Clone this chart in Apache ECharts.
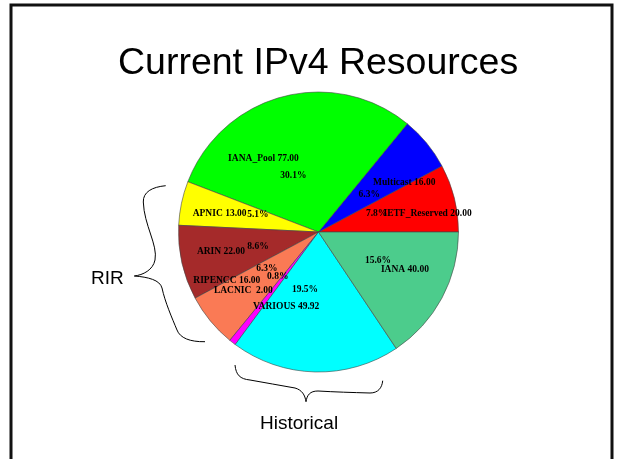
<!DOCTYPE html>
<html>
<head>
<meta charset="utf-8">
<script src="https://cdn.jsdelivr.net/npm/echarts@6/dist/echarts.min.js"></script>
<style>
html,body{margin:0;padding:0;background:#fff;}
#chart{width:623px;height:459px;}
</style>
</head>
<body>
<div id="chart"></div>
<script>
// ---- data ----
const categories = ['IETF_Reserved', 'Multicast', 'IANA_Pool', 'APNIC', 'ARIN', 'RIPENCC', 'LACNIC', 'VARIOUS', 'IANA'];
const values = [20.00, 16.00, 77.00, 13.00, 22.00, 16.00, 2.00, 49.92, 40.00];
const titleText = 'Current IPv4 Resources';
const groupLabels = ['RIR', 'Historical'];

// ---- styles ----
const sliceColors = ['#ff0000', '#0000ff', '#00ff00', '#ffff00', '#a52a2a', '#fa7a55', '#ff00ff', '#00ffff', '#4ccc8c'];
const nameNudge = {
  IETF_Reserved: [14, 5], Multicast: [10, 13], IANA_Pool: [-30, 21], APNIC: [-3, 2], ARIN: [-2, -2],
  RIPENCC: [-16, -14], LACNIC: [-15, -19], VARIOUS: [-30, -23], IANA: [0, -9]
};
const pctNudge = {
  IETF_Reserved: [-3, -3], Multicast: [2, 3], APNIC: [1, -4], ARIN: [1, 1], VARIOUS: [-12, -5], IANA_Pool: [-9, 4],
  IANA: [4, -1], RIPENCC: [-3, -3], LACNIC: [-2, -5]
};

// brace curve segments [x1,y1,cpx1,cpy1,cpx2,cpy2,x2,y2]
const leftBrace = [
  [165.7, 185.7, 152, 187, 143, 192, 143.3, 202],
  [143.3, 202, 144, 225, 158, 245, 155, 260],
  [155, 260, 153, 270, 143, 275, 134.3, 276],
  [134.3, 276, 148, 277, 160, 280, 162, 288],
  [162, 288, 165, 302, 172, 318, 177, 330],
  [177, 330, 180, 338, 190, 342, 205, 341.7]
];
const bottomBrace = [
  [235, 365, 236, 375, 240, 379, 250, 380],
  [250, 380, 265, 383, 280, 385, 295, 388],
  [295, 388, 302, 390, 305, 395, 306, 401.7],
  [306, 401.7, 307, 395, 310, 391, 318, 391],
  [318, 391, 335, 392, 352, 392.5, 370, 393],
  [370, 393, 378, 393, 382, 388, 382.7, 380.7]
];

const total = values.reduce((a, b) => a + b, 0);
const center = [318.5, 232];
const R = 140;
const labelFont = { fontFamily: 'Liberation Serif', fontSize: 9.5, fontWeight: 'bold', color: '#000' };

function mainData() {
  return categories.map((c, i) => ({ name: c, value: values[i], itemStyle: { color: sliceColors[i] } }));
}
function labelData(nudge) {
  return categories.map((c, i) => ({
    name: c, value: values[i],
    label: nudge[c] ? { offset: nudge[c] } : {}
  }));
}
function braceGraphics(segs) {
  return segs.map(s => ({
    type: 'bezierCurve',
    shape: { x1: s[0], y1: s[1], cpx1: s[2], cpy1: s[3], cpx2: s[4], cpy2: s[5], x2: s[6], y2: s[7] },
    style: { fill: null, stroke: '#000', lineWidth: 1 }, z: 100
  }));
}

const chart = echarts.init(document.getElementById('chart'), null, { renderer: 'canvas' });
chart.setOption({
  animation: false,
  backgroundColor: '#fff',
  title: [
    { text: titleText, left: 118, top: 45, padding: 0,
      textStyle: { fontFamily: 'Liberation Sans', fontSize: 37.5, fontWeight: 'normal', color: '#000' } },
    { text: groupLabels[0], left: 91, top: 269, padding: 0,
      textStyle: { fontFamily: 'Liberation Sans', fontSize: 19, fontWeight: 'normal', color: '#000' } },
    { text: groupLabels[1], left: 260, top: 414, padding: 0,
      textStyle: { fontFamily: 'Liberation Sans', fontSize: 19, fontWeight: 'normal', color: '#000' } }
  ],
  graphic: [
    { type: 'rect', shape: { x: 11, y: 5, width: 601, height: 470 },
      style: { fill: null, stroke: '#111', lineWidth: 3 }, z: 100 }
  ].concat(braceGraphics(leftBrace), braceGraphics(bottomBrace)),
  series: [
    {
      type: 'pie', center: center, radius: [0, R], startAngle: 0, clockwise: false,
      silent: true, label: { show: false }, labelLine: { show: false },
      itemStyle: { borderColor: '#444', borderWidth: 0.6 },
      data: mainData()
    },
    {
      type: 'pie', center: center, radius: [55, 65], startAngle: 0, clockwise: false,
      silent: true, avoidLabelOverlap: false, labelLine: { show: false },
      labelLayout: { hideOverlap: false },
      itemStyle: { color: 'rgba(0,0,0,0)', borderWidth: 0 },
      label: Object.assign({ show: true, position: 'inside',
        formatter: p => (p.value / total * 100).toFixed(1) + '%' }, labelFont),
      data: labelData(pctNudge)
    },
    {
      type: 'pie', center: center, radius: [90, 100], startAngle: 0, clockwise: false,
      silent: true, avoidLabelOverlap: false, labelLine: { show: false },
      labelLayout: { hideOverlap: false },
      itemStyle: { color: 'rgba(0,0,0,0)', borderWidth: 0 },
      label: Object.assign({ show: true, position: 'inside',
        formatter: p => p.name + ' ' + p.value.toFixed(2).padStart(5, ' ') }, labelFont),
      data: labelData(nameNudge)
    }
  ]
});
</script>
</body>
</html>
